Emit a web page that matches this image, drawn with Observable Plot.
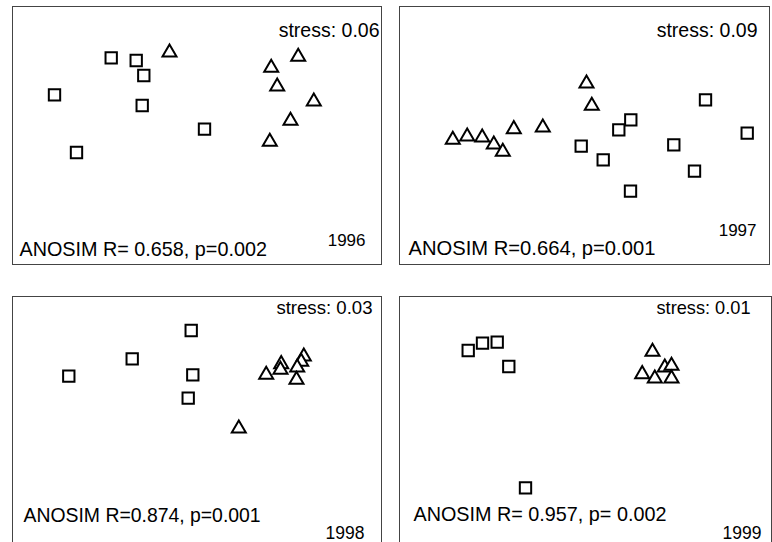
<!DOCTYPE html>
<html><head><meta charset="utf-8">
<script src="https://cdn.jsdelivr.net/npm/d3@7"></script>
<script src="https://cdn.jsdelivr.net/npm/@observablehq/plot@0.6"></script>
<style>
html,body{margin:0;padding:0;background:#fff;}
#wrap{position:relative;width:772px;height:542px;overflow:hidden;background:#fff;}
.panel{position:absolute;}
.panel svg{display:block;overflow:visible;}
</style></head><body><div id="wrap"></div>
<script>
// ---- data (NMDS axis-1 / axis-2 scores, arbitrary units) ----
const years = ["1996", "1997", "1998", "1999"];
const stressLabels = ["stress: 0.06", "stress: 0.09", "stress: 0.03", "stress: 0.01"];
const anosimLabels = ["ANOSIM R= 0.658, p=0.002", "ANOSIM R=0.664, p=0.001", "ANOSIM R=0.874, p=0.001", "ANOSIM R= 0.957, p= 0.002"];

// group 1 (squares)
const sq1996X = [-0.858, -0.608, -0.532, -1.425, -0.548, 0.075, -1.205];
const sq1996Y = [0.777, 0.750, 0.600, 0.407, 0.300, 0.063, -0.170];
const sq1997X = [1.210, 0.463, 0.343, 1.627, -0.033, 0.893, 0.187, 1.100, 0.460];
const sq1997Y = [0.357, 0.157, 0.057, 0.023, -0.107, -0.093, -0.243, -0.357, -0.557];
const sq1998X = [-0.058, -0.648, -1.282, -0.042, -0.088];
const sq1998Y = [0.950, 0.667, 0.493, 0.507, 0.273];
const sq1999X = [-1.173, -1.030, -0.883, -0.767, -0.600];
const sq1999Y = [0.750, 0.823, 0.833, 0.590, -0.623];

// group 2 (triangles)
const tri1996X = [-0.275, 1.012, 0.742, 0.802, 1.168, 0.935, 0.728];
const tri1996Y = [0.830, 0.787, 0.677, 0.490, 0.340, 0.147, -0.063];
const tri1997X = [0.020, 0.073, -0.417, -0.707, -1.317, -1.173, -1.023, -0.907, -0.817];
const tri1997Y = [0.520, 0.297, 0.080, 0.063, -0.043, -0.010, -0.020, -0.090, -0.163];
const tri1998X = [0.418, 0.692, 1.068, 1.042, 0.842, 0.835, 1.002, 0.995];
const tri1998Y = [-0.030, 0.507, 0.690, 0.637, 0.613, 0.557, 0.580, 0.457];
const tri1999X = [0.670, 0.567, 0.793, 0.860, 0.693, 0.860];
const tri1999Y = [0.737, 0.513, 0.580, 0.597, 0.470, 0.470];

const squaresX = [sq1996X, sq1997X, sq1998X, sq1999X];
const squaresY = [sq1996Y, sq1997Y, sq1998Y, sq1999Y];
const trianglesX = [tri1996X, tri1997X, tri1998X, tri1999X];
const trianglesY = [tri1996Y, tri1997Y, tri1998Y, tri1999Y];

// ---- layout (pixels) ----
const layout = [
  {left: 12,  top: 6,   w: 369, h: 258, st: [-2, 30, 19.5],  an: [7, -9, 19.8],   yr: [-16, -19, 17]},
  {left: 399, top: 6,   w: 370, h: 258, st: [-12, 30, 19.5], an: [9, -10, 20.2],  yr: [-13, -29, 17]},
  {left: 12,  top: 296, w: 369, h: 258, st: [-9, 17, 18.6],  an: [11, -33, 19.4], yr: [-17, -16, 17.5]},
  {left: 399, top: 296, w: 372, h: 258, st: [-21, 17, 18.2], an: [14, -34, 19.8], yr: [-10, -16, 17.5]}
];

const font = "'Liberation Sans', Arial, Helvetica, sans-serif";
const wrap = document.getElementById("wrap");

years.forEach((year, i) => {
  const L = layout[i];
  const sq = squaresX[i].map((x, j) => ({x, y: squaresY[i][j]}));
  const tri = trianglesX[i].map((x, j) => ({x, y: trianglesY[i][j]}));
  const chart = Plot.plot({
    width: L.w + 1,
    height: L.h + 1,
    marginTop: 0, marginLeft: 0, marginRight: 1, marginBottom: 1,
    x: {domain: [-L.w / 200, L.w / 200], axis: null},
    y: {domain: [-L.h / 200, L.h / 200], axis: null},
    style: {background: "transparent", fontFamily: font, overflow: "visible"},
    marks: [
      Plot.frame({stroke: "#444", strokeWidth: 1}),
      Plot.dot(sq, {x: "x", y: "y", symbol: "square", r: 6.4, stroke: "black", strokeWidth: 2, fill: "white"}),
      Plot.dot(tri, {x: "x", y: "y", symbol: "triangle", r: 5.2, stroke: "black", strokeWidth: 2, fill: "white", strokeLinejoin: "miter"}),
      Plot.text([stressLabels[i]], {frameAnchor: "top-right", textAnchor: "end", lineAnchor: "bottom", dx: L.st[0], dy: L.st[1], fontSize: L.st[2], fill: "black"}),
      Plot.text([anosimLabels[i]], {frameAnchor: "bottom-left", textAnchor: "start", lineAnchor: "bottom", dx: L.an[0], dy: L.an[1], fontSize: L.an[2], fill: "black"}),
      Plot.text([year], {frameAnchor: "bottom-right", textAnchor: "end", lineAnchor: "bottom", dx: L.yr[0], dy: L.yr[1], fontSize: L.yr[2], fill: "black"})
    ]
  });
  const div = document.createElement("div");
  div.className = "panel";
  div.style.left = L.left + "px";
  div.style.top = L.top + "px";
  div.appendChild(chart);
  wrap.appendChild(div);
});
</script>
</body></html>
